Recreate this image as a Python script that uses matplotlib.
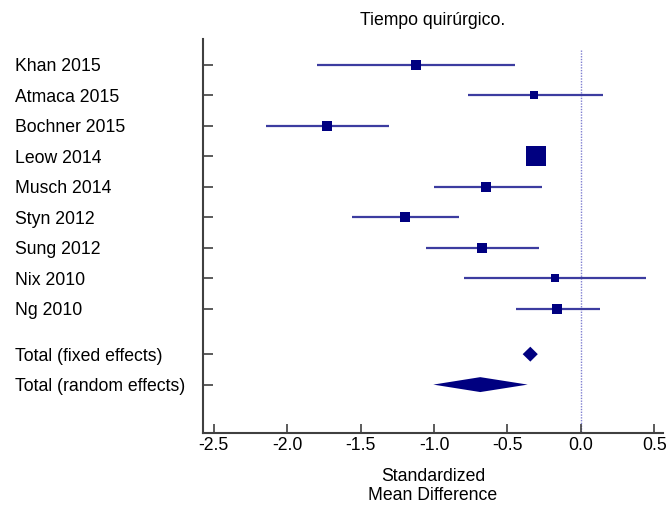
import matplotlib
matplotlib.use("Agg")
import matplotlib.pyplot as plt
import numpy as np

plt.rcParams['font.family'] = ['Liberation Sans', 'DejaVu Sans']
plt.rcParams['axes.unicode_minus'] = False

studies = ["Khan 2015", "Atmaca 2015", "Bochner 2015", "Leow 2014", "Musch 2014",
           "Styn 2012", "Sung 2012", "Nix 2010", "Ng 2010"]
smd = [-1.125, -0.316, -1.726, -0.307, -0.644, -1.196, -0.675, -0.175, -0.160]
ci_lo = [-1.799, -0.771, -2.147, -0.350, -1.003, -1.558, -1.057, -0.794, -0.441]
ci_hi = [-0.448, 0.154, -1.306, -0.265, -0.266, -0.830, -0.282, 0.441, 0.132]
weights = [8.0, 7.5, 8.0, 40.0, 8.0, 8.0, 8.0, 7.5, 10.5]

totals = ["Total (fixed effects)", "Total (random effects)"]
tot_est = [-0.344, -0.685]
tot_lo = [-0.396, -1.005]
tot_hi = [-0.293, -0.362]

xticks = [-2.5, -2.0, -1.5, -1.0, -0.5, 0.0, 0.5]
title = "Tiempo quirúrgico."
xlabel = "Standardized\nMean Difference"

navy = "#000080"
ci_col = "#3c3ca0"
spine_col = "#404040"
fs = 12.7

fig = plt.figure(figsize=(6.67, 5.05), dpi=100)
ax = fig.add_axes([203/667, 1-433/505, (663-203)/667, (433-39)/505])

ypos_studies = np.arange(len(studies), dtype=float)
ypos_totals = np.array([len(studies) + 0.5, len(studies) + 1.5])

# zero line
ax.plot([0, 0], [-0.49, 13], linestyle=(0, (1, 1)), color="#7f7fd0", lw=1.0, zorder=1)

for y, e, lo, hi, w in zip(ypos_studies, smd, ci_lo, ci_hi, weights):
    ax.plot([lo, hi], [y, y], color=ci_col, lw=1.6, solid_capstyle='butt', zorder=2)
    ax.plot([e], [y], marker='s', color=navy, markersize=2.35*np.sqrt(w),
            markeredgewidth=0, linestyle='none', zorder=3)

hh = 0.245
for y, e, lo, hi in zip(ypos_totals, tot_est, tot_lo, tot_hi):
    ax.fill([lo, e, hi, e], [y, y - hh, y, y + hh], color=navy, lw=0, zorder=3)

ax.set_xlim(-2.574, 0.56)
ax.set_ylim(12.09, -0.854)

ax.set_xticks(xticks)
ax.set_xticklabels([f"{t:.1f}" for t in xticks])
ax.set_yticks(list(ypos_studies) + list(ypos_totals))
ax.set_yticklabels(studies + totals)

for s in ['top', 'right']:
    ax.spines[s].set_visible(False)
for s in ['left', 'bottom']:
    ax.spines[s].set_color(spine_col)
    ax.spines[s].set_linewidth(1.5)

ax.tick_params(axis='x', direction='in', length=6.5, width=1.2, color=spine_col,
               pad=3, labelsize=fs)
ax.tick_params(axis='y', direction='in', length=7, width=1.2, color=spine_col,
               pad=135.4, labelsize=fs)
for lab in ax.get_yticklabels():
    lab.set_horizontalalignment('left')

ax.set_xlabel(xlabel, fontsize=fs, labelpad=10, linespacing=1.12)
ax.set_title(title, fontsize=fs, pad=10)

fig.savefig("out.png", dpi=100)
